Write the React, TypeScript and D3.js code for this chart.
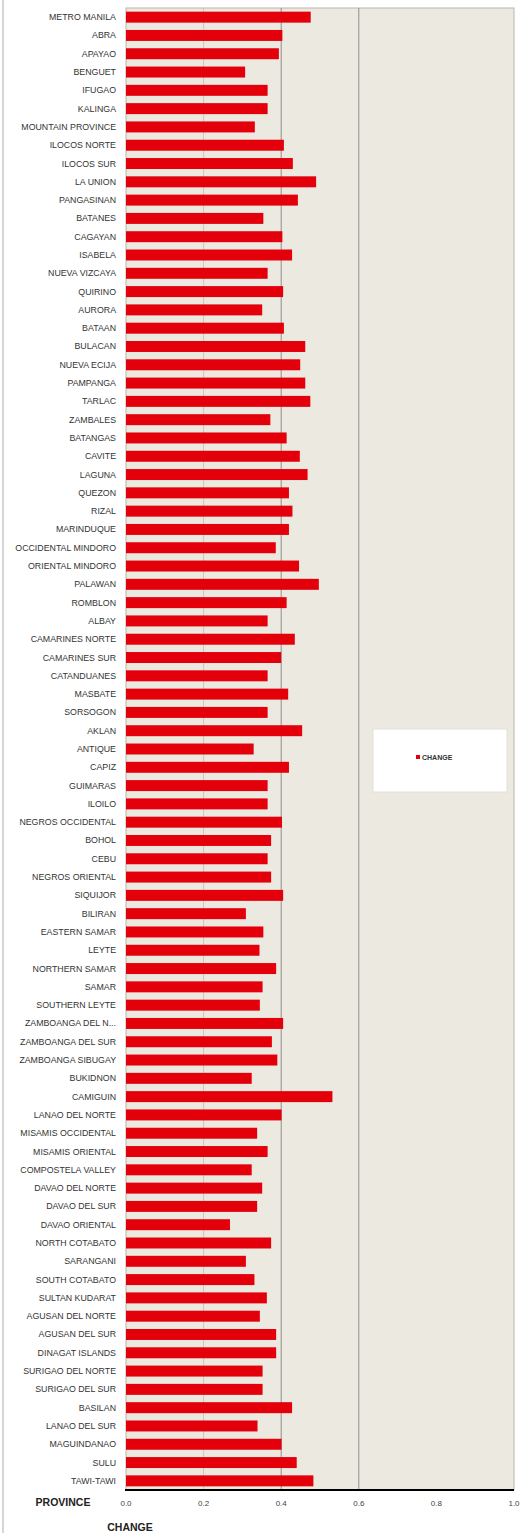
import React from "react";
import * as d3 from "d3";

const provinces: string[] = [
  "METRO MANILA", "ABRA", "APAYAO", "BENGUET", "IFUGAO", "KALINGA", "MOUNTAIN PROVINCE",
  "ILOCOS NORTE", "ILOCOS SUR", "LA UNION", "PANGASINAN", "BATANES", "CAGAYAN", "ISABELA",
  "NUEVA VIZCAYA", "QUIRINO", "AURORA", "BATAAN", "BULACAN", "NUEVA ECIJA", "PAMPANGA",
  "TARLAC", "ZAMBALES", "BATANGAS", "CAVITE", "LAGUNA", "QUEZON", "RIZAL", "MARINDUQUE",
  "OCCIDENTAL MINDORO", "ORIENTAL MINDORO", "PALAWAN", "ROMBLON", "ALBAY", "CAMARINES NORTE",
  "CAMARINES SUR", "CATANDUANES", "MASBATE", "SORSOGON", "AKLAN", "ANTIQUE", "CAPIZ",
  "GUIMARAS", "ILOILO", "NEGROS OCCIDENTAL", "BOHOL", "CEBU", "NEGROS ORIENTAL", "SIQUIJOR",
  "BILIRAN", "EASTERN SAMAR", "LEYTE", "NORTHERN SAMAR", "SAMAR", "SOUTHERN LEYTE",
  "ZAMBOANGA DEL N...", "ZAMBOANGA DEL SUR", "ZAMBOANGA SIBUGAY", "BUKIDNON", "CAMIGUIN",
  "LANAO DEL NORTE", "MISAMIS OCCIDENTAL", "MISAMIS ORIENTAL", "COMPOSTELA VALLEY",
  "DAVAO DEL NORTE", "DAVAO DEL SUR", "DAVAO ORIENTAL", "NORTH COTABATO", "SARANGANI",
  "SOUTH COTABATO", "SULTAN KUDARAT", "AGUSAN DEL NORTE", "AGUSAN DEL SUR", "DINAGAT ISLANDS",
  "SURIGAO DEL NORTE", "SURIGAO DEL SUR", "BASILAN", "LANAO DEL SUR", "MAGUINDANAO", "SULU",
  "TAWI-TAWI",
];

const changeValues: number[] = [
  0.476, 0.403, 0.394, 0.307, 0.365, 0.365, 0.332, 0.407, 0.430, 0.490,
  0.443, 0.354, 0.403, 0.428, 0.365, 0.405, 0.351, 0.407, 0.462, 0.449,
  0.462, 0.475, 0.372, 0.414, 0.448, 0.468, 0.420, 0.429, 0.420, 0.386,
  0.446, 0.497, 0.414, 0.365, 0.435, 0.400, 0.365, 0.418, 0.365, 0.454,
  0.329, 0.420, 0.365, 0.365, 0.402, 0.374, 0.365, 0.374, 0.405, 0.309,
  0.354, 0.344, 0.387, 0.352, 0.345, 0.405, 0.376, 0.390, 0.324, 0.532,
  0.401, 0.338, 0.365, 0.324, 0.351, 0.338, 0.268, 0.374, 0.309, 0.331,
  0.363, 0.345, 0.387, 0.387, 0.352, 0.352, 0.428, 0.339, 0.401, 0.440,
  0.483,
];

const xTicks: number[] = [0.0, 0.2, 0.4, 0.6, 0.8, 1.0];
const gridTicks: number[] = [0.2, 0.4, 0.6];
const seriesName = "CHANGE";
const yAxisTitle = "PROVINCE";
const xAxisTitle = "CHANGE";

export default function App() {
  const W = 528;
  const H = 1533;
  const left = 126;
  const right = 514;
  const top = 8;
  const bottom = 1490;

  const x = d3.scaleLinear().domain([0, 1]).range([left, right]);
  const y = d3.scaleBand<string>().domain(provinces).range([top, bottom]).paddingInner(0.4).paddingOuter(0.2);

  const font = "'Liberation Sans', Arial, sans-serif";

  return (
    <svg width={W} height={H} style={{ position: "absolute", left: 0, top: 0, display: "block" }}>
      <rect x={0} y={0} width={W} height={H} fill="#ffffff" />
      <line x1={3} y1={0} x2={3} y2={H} stroke="#c8c8c8" strokeWidth={1.5} />
      <rect x={left} y={top} width={right - left} height={bottom - top} fill="#ECE9E1" stroke="#b8b6b0" strokeWidth={1} />
      {gridTicks.map((t) => (
        <line key={"g" + t} x1={x(t)} x2={x(t)} y1={top} y2={bottom} stroke={t === 0.2 ? "#c9c6bf" : "#8f8f8f"} strokeWidth={1} />
      ))}
      {provinces.map((p, i) => (
        <rect key={"b" + p} x={x(0)} y={y(p)!} width={x(changeValues[i]) - x(0)} height={y.bandwidth()} fill="#E3000B" />
      ))}
      {provinces.map((p) => (
        <text key={"l" + p} x={116} y={y(p)! + y.bandwidth() / 2} textAnchor="end" dominantBaseline="central"
          fontFamily={font} fontSize={8.8} fill="#333">{p}</text>
      ))}
      <line x1={left - 1} x2={right} y1={bottom} y2={bottom} stroke="#000" strokeWidth={2} />
      {xTicks.map((t) => (
        <text key={"t" + t} x={x(t)} y={1503} textAnchor="middle" dominantBaseline="central"
          fontFamily={font} fontSize={8} fill="#444">{t.toFixed(1)}</text>
      ))}
      <text x={63} y={1502} textAnchor="middle" dominantBaseline="central" fontFamily={font} fontSize={10.5} fontWeight="bold" fill="#222">{yAxisTitle}</text>
      <text x={130} y={1527} textAnchor="middle" dominantBaseline="central" fontFamily={font} fontSize={10.5} fontWeight="bold" fill="#222">{xAxisTitle}</text>
      <rect x={373} y={729} width={134} height={63} fill="#ffffff" stroke="#e2e0da" strokeWidth={1} />
      <rect x={416} y={755} width={4} height={4} fill="#E3000B" />
      <text x={422} y={757.5} dominantBaseline="central" fontFamily={font} fontSize={7} fontWeight="bold" fill="#333">{seriesName}</text>
    </svg>
  );
}
